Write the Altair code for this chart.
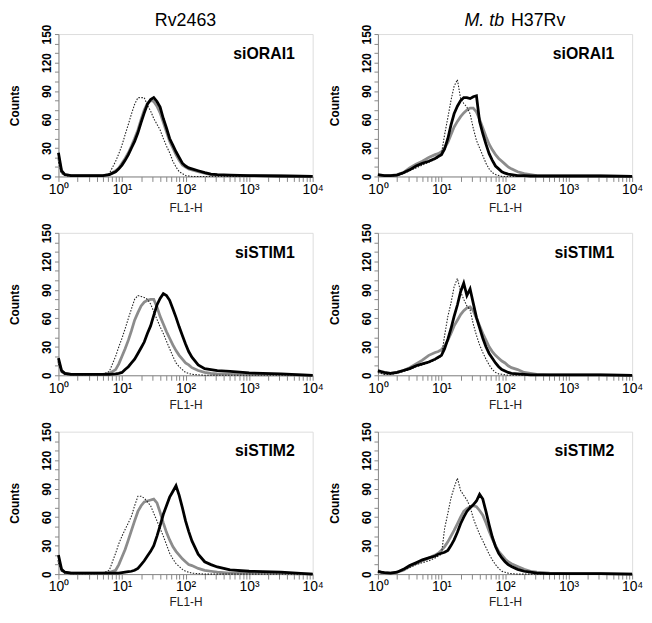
import altair as alt
import pandas as pd

FONT = "Liberation Sans"

# FL1-H channel values (shared bins, log spaced)
fl1 = [1, 1.12, 1.26, 1.58, 2.0, 2.51, 3.16, 3.98, 5.01, 6.31,
       7.94, 8.91, 10, 11.2, 12.6, 14.1, 15.8, 17.8, 20.0, 22.4,
       25.1, 28.2, 31.6, 35.5, 39.8, 44.7, 50.1, 56.2, 63.1, 70.8,
       79.4, 89.1, 100, 112, 126, 158, 200, 251, 316, 501, 1000, 3162, 10000]

# Row 1 (siORAI1)
tl_black = [25, 6, 2, 1, 1, 1, 1, 1, 1, 2, 5, 8, 12, 17, 23, 30, 37, 46, 57, 67, 76, 81, 83, 79, 73, 61, 51, 40, 33, 26, 20, 14, 11, 9, 8, 6, 4, 2.5, 2, 1.5, 1, 0.5, 0]
tl_gray = [20, 5, 2, 1, 1, 1, 1, 1, 1, 2, 6, 9, 14, 19, 25, 32, 40, 49, 60, 70, 77, 80, 79, 74, 67, 57, 47, 37, 30, 23, 17, 12, 10, 8, 7, 5, 3.5, 2, 1.5, 1, 1, 0.5, 0]
tl_dotted = [15, 3, 1, 0, 0, 0, 0, 0, 0.5, 3, 16, 24, 33, 44, 55, 66, 76, 83, 83, 83, 75, 69, 61, 55, 49, 40, 32, 25, 16, 10, 5, 3, 1, 0.5, 0, 0, 0, 0, 0, 0, 0, 0, 0]
tr_black = [2, 1.5, 1, 1, 1.5, 4, 7, 11, 14, 16, 19, 21, 23, 29, 40, 54, 66, 74, 80, 83, 83, 82, 84, 85, 58, 45, 34, 24, 17, 11, 8, 5, 3.5, 2.5, 2, 1, 1, 0.5, 0.5, 0.5, 0.5, 0.5, 0]
tr_gray = [1, 1, 1, 1, 2, 4, 9, 13, 16, 20, 23, 24, 26, 30, 36, 44, 52, 58, 63, 67, 70, 72, 72, 68, 60, 51, 42, 34, 28, 23, 19, 16, 13, 10, 8, 5, 3, 2, 1, 0.5, 0.5, 0.5, 0]
tr_dotted = [1, 1, 0.5, 0.5, 1, 3, 6, 9, 12, 15, 18, 20, 24, 44, 62, 80, 95, 102, 82, 77, 73, 66, 51, 38, 30, 22, 14, 8, 4, 2, 1, 0, 0, 0, 0, 0, 0, 0, 0, 0, 0, 0, 0]

# Row 2 (siSTIM1)
ml_black = [18, 5, 2, 1, 1, 1, 1, 1, 1, 1, 1.5, 2, 3, 6, 9, 13, 17, 23, 29, 35, 44, 52, 63, 74, 81, 86, 84, 79, 70, 61, 51, 42, 33, 25, 19, 11, 7, 6, 5, 4, 2.5, 1.5, 0]
ml_gray = [15, 4, 2, 1, 1, 1, 1, 1, 1, 2, 6, 12, 20, 28, 37, 47, 58, 66, 73, 77, 79, 80, 80, 72, 62, 54, 46, 39, 32, 26, 21, 17, 13, 11, 8, 5, 3, 2, 1.5, 1, 0.5, 0.5, 0]
ml_dotted = [12, 3, 1, 0.5, 0.5, 0.5, 0.5, 0.5, 1, 4, 20, 30, 39, 49, 60, 70, 80, 84, 83, 82, 80, 75, 67, 59, 51, 44, 36, 28, 20, 13, 9, 6, 3, 2, 1, 0.5, 0, 0, 0, 0, 0, 0, 0]
mr_black = [5, 4, 3, 2, 3, 5, 7, 10, 12, 14, 17, 19, 21, 28, 38, 49, 62, 74, 88, 97, 84, 91, 76, 61, 50, 39, 30, 23, 18, 13, 9, 6, 4.5, 3, 2, 1.5, 1, 0.5, 0.5, 0.5, 0.5, 0.5, 0]
mr_gray = [4, 3, 2, 2, 3, 5, 8, 12, 16, 21, 24, 25, 27, 31, 37, 44, 52, 58, 64, 68, 71, 72, 68, 60, 52, 44, 37, 30, 25, 21, 18, 15, 13, 10, 8, 6, 3, 2, 1, 0.5, 0.5, 0.5, 0]
mr_dotted = [3, 2, 1, 1, 2, 4, 6, 9, 11, 13, 16, 18, 20, 42, 62, 76, 93, 102, 88, 80, 73, 69, 54, 42, 32, 24, 17, 11, 6, 3, 1.5, 1, 0.5, 0, 0, 0, 0, 0, 0, 0, 0, 0, 0]

# Row 3 (siSTIM2)
bl_black = [20, 5, 2, 1, 1, 1, 1, 1, 1, 1, 1, 1, 1.5, 2, 2.5, 3, 4, 6, 10, 14, 19, 24, 30, 40, 51, 63, 72, 81, 87, 93, 83, 70, 56, 45, 35, 21, 13, 10, 7.5, 4.5, 3, 2, 0]
bl_gray = [15, 4, 2, 1, 1, 1, 1, 1, 1, 1.5, 4, 10, 18, 26, 36, 46, 56, 66, 72, 76, 77, 78, 79, 75, 65, 54, 44, 36, 29, 24, 20, 16, 13, 10, 9, 6, 4, 3, 2, 1, 0.5, 0.5, 0]
bl_dotted = [12, 3, 1, 0.5, 0.5, 0.5, 0.5, 0.5, 1, 4, 22, 32, 40, 47, 54, 61, 72, 82, 82, 80, 76, 72, 64, 56, 48, 40, 31, 22, 16, 11, 8, 5, 3, 2, 1, 0.5, 0, 0, 0, 0, 0, 0, 0]
br_black = [3, 2, 1.5, 1, 2, 5, 9, 12, 15, 17, 19, 21, 22, 23, 25, 30, 36, 44, 53, 60, 66, 70, 73, 77, 84, 79, 66, 52, 39, 29, 22, 17, 13, 10, 8, 5, 3, 2, 1, 0.5, 0.5, 0.5, 0]
br_gray = [2, 2, 1.5, 1, 2, 4, 8, 11, 14, 17, 20, 22, 25, 29, 34, 40, 46, 53, 60, 66, 69, 71, 72, 71, 67, 62, 54, 45, 37, 30, 24, 20, 16, 13, 11, 8, 5, 3, 2, 1, 0.5, 0.5, 0]
br_dotted = [2, 1.5, 1, 1, 2, 4, 7, 10, 12, 14, 17, 19, 21, 48, 64, 80, 91, 101, 88, 83, 78, 71, 59, 50, 42, 35, 28, 21, 15, 10, 6, 3, 2, 1, 0.5, 0, 0, 0, 0, 0, 0, 0, 0]

panel_labels = ["siORAI1", "siORAI1", "siSTIM1", "siSTIM1", "siSTIM2", "siSTIM2"]
x_ticks = [1, 2, 3, 4, 5, 6, 7, 8, 9,
           10, 20, 30, 40, 50, 60, 70, 80, 90,
           100, 200, 300, 400, 500, 600, 700, 800, 900,
           1000, 2000, 3000, 4000, 5000, 6000, 7000, 8000, 9000, 10000]
y_ticks = [0, 10, 20, 30, 40, 50, 60, 70, 80, 90, 100, 110, 120, 130, 140, 150]

W, H = 257, 144
X_LABEL = ("datum.value == 1 ? '10\u2070' : datum.value == 10 ? '10\u00b9' : "
           "datum.value == 100 ? '10\u00b2' : datum.value == 1000 ? '10\u00b3' : "
           "datum.value == 10000 ? '10\u2074' : ''")


def panel(black, gray, dotted, label, row, col):
    n = len(fl1)
    df = pd.DataFrame({
        "fl1": fl1 * 3,
        "count": black + gray + dotted,
        "series": ["black"] * n + ["gray"] * n + ["dotted"] * n,
    })
    tpad = [6, 5, 3][row]
    x = alt.X("fl1:Q", scale=alt.Scale(type="log", domain=[1, 10000]),
              axis=alt.Axis(values=x_ticks, labelExpr=X_LABEL, title="FL1-H",
                            tickSize=5, labelPadding=1, labelFontSize=14,
                            labelFlush=False, labelOverlap=False,
                            titleFontSize=12, titleFontWeight="normal",
                            titleColor="#222", titlePadding=tpad, grid=False))
    y = alt.Y("count:Q", scale=alt.Scale(domain=[0, 150], nice=False, zero=True),
              axis=alt.Axis(values=y_ticks,
                            labelExpr="datum.value % 30 == 0 ? datum.label : ''",
                            labelAngle=270, labelAlign="center", labelBaseline="bottom",
                            tickSize=4, labelPadding=1, labelFontSize=12,
                            labelFontWeight="bold", labelOverlap=False,
                            title="Counts", titleFontSize=12, titleFontWeight="bold",
                            titlePadding=19, grid=False))
    base = alt.Chart(df).encode(x=x, y=y)
    g = base.transform_filter("datum.series == 'gray'").mark_line(
        color="#8c8c8c", strokeWidth=2.8)
    d = base.transform_filter("datum.series == 'dotted'").mark_line(
        color="#222222", strokeWidth=1.1, strokeDash=[1.5, 1.5])
    b = base.transform_filter("datum.series == 'black'").mark_line(
        color="#000000", strokeWidth=2.8)
    t = alt.Chart(pd.DataFrame({"label": [label]})).mark_text(
        align="right", baseline="middle", fontSize=16, fontWeight="bold",
        font=FONT, color="#000").encode(
        x=alt.value(W - 18), y=alt.value(20), text="label:N")
    layers = [g, d, b, t]
    if row == 0 and col == 0:
        layers.append(alt.Chart(pd.DataFrame({"t": ["Rv2463"]})).mark_text(
            align="center", baseline="alphabetic", fontSize=18, font=FONT,
            color="#000").encode(x=alt.value(W / 2), y=alt.value(-8), text="t:N"))
    if row == 0 and col == 1:
        layers.append(alt.Chart(pd.DataFrame({"t": ["M. tb"]})).mark_text(
            align="right", baseline="alphabetic", fontSize=18, font=FONT,
            fontStyle="italic", color="#000").encode(
            x=alt.value(W / 2 - 1), y=alt.value(-8), text="t:N"))
        layers.append(alt.Chart(pd.DataFrame({"t": ["H37Rv"]})).mark_text(
            align="left", baseline="alphabetic", fontSize=18, font=FONT,
            color="#000").encode(x=alt.value(W / 2 + 6), y=alt.value(-8), text="t:N"))
    return alt.layer(*layers).properties(width=W, height=H)


panels = [
    panel(tl_black, tl_gray, tl_dotted, panel_labels[0], 0, 0),
    panel(tr_black, tr_gray, tr_dotted, panel_labels[1], 0, 1),
    panel(ml_black, ml_gray, ml_dotted, panel_labels[2], 1, 0),
    panel(mr_black, mr_gray, mr_dotted, panel_labels[3], 1, 1),
    panel(bl_black, bl_gray, bl_dotted, panel_labels[4], 2, 0),
    panel(br_black, br_gray, br_dotted, panel_labels[5], 2, 1),
]

chart = alt.concat(*panels, columns=2, spacing={"row": 57, "column": 66},
                   bounds="flush").properties(
    padding={"left": 0, "top": 0, "right": 0, "bottom": 0}
).configure_axis(
    labelFont=FONT, titleFont=FONT, labelColor="#000", titleColor="#000",
    domainColor="#000", domainWidth=1.5, tickColor="#000", tickWidth=1
).configure_view(
    stroke="#444", strokeWidth=1
).configure(background="white")

chart.save("out.html", embed_options={"renderer": "svg", "actions": False})
